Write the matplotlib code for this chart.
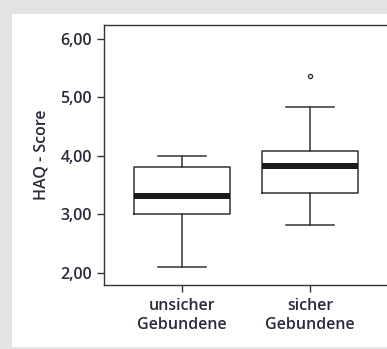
import matplotlib
matplotlib.use("Agg")
import matplotlib.pyplot as plt
from matplotlib.patches import Rectangle

plt.rcParams['font.family'] = ['Open Sans', 'DejaVu Sans']
plt.rcParams['font.weight'] = 'semibold'

# Daten
gruppen = ["unsicher\nGebundene", "sicher\nGebundene"]
whisker_unten = [2.09, 2.82]
q1 = [3.00, 3.37]
median = [3.31, 3.83]
q3 = [3.81, 4.09]
whisker_oben = [4.00, 4.84]
ausreisser = [[], [5.37]]
y_ticks = [2.0, 3.0, 4.0, 5.0, 6.0]

stats = []
for i in range(len(gruppen)):
    stats.append(dict(whislo=whisker_unten[i], q1=q1[i], med=median[i], q3=q3[i],
                      whishi=whisker_oben[i], fliers=ausreisser[i], label=gruppen[i]))

fig = plt.figure(figsize=(3.87, 3.49), dpi=100)
fig.patch.set_facecolor('#e3e3e3')
fig.patches.append(Rectangle((12/387, 2/349), 1, (347-14)/349, transform=fig.transFigure,
                             facecolor='white', edgecolor='none', zorder=-5))

ax = fig.add_axes([104/387, 1 - 285/349, (387-104)/387, 260/349])
ax.set_zorder(2)
linie = '#333333'
ax.bxp(stats, positions=[1, 2], widths=0.75, showfliers=True, patch_artist=False,
       boxprops=dict(color=linie, linewidth=1.1),
       whiskerprops=dict(color=linie, linewidth=1.1),
       capprops=dict(color=linie, linewidth=1.1),
       medianprops=dict(color='#1a1a1a', linewidth=4.3, solid_capstyle='butt'),
       flierprops=dict(marker='o', markersize=3, markerfacecolor='white',
                       markeredgecolor=linie, markeredgewidth=1.0))

ax.set_xlim(0.395, 2.6)
ax.set_ylim(1.79, 6.24)
ax.set_yticks(y_ticks)
ax.set_yticklabels([f"{v:.2f}".replace('.', ',') for v in y_ticks])
ax.set_ylabel("HAQ - Score", fontsize=11.5, fontweight='semibold', color='#2a2a3a', labelpad=8)

for s in ['left', 'bottom', 'top']:
    ax.spines[s].set_color(linie)
    ax.spines[s].set_linewidth(1.0)
ax.spines['right'].set_visible(False)

ax.tick_params(axis='both', colors=linie, labelcolor='#2a2a3a', length=5, width=1.0,
               labelsize=11.5)
ax.tick_params(axis='x', pad=4)
for t in ax.get_xticklabels():
    t.set_linespacing(1.3)

fig.savefig("out.png", dpi=100, facecolor=fig.get_facecolor())
